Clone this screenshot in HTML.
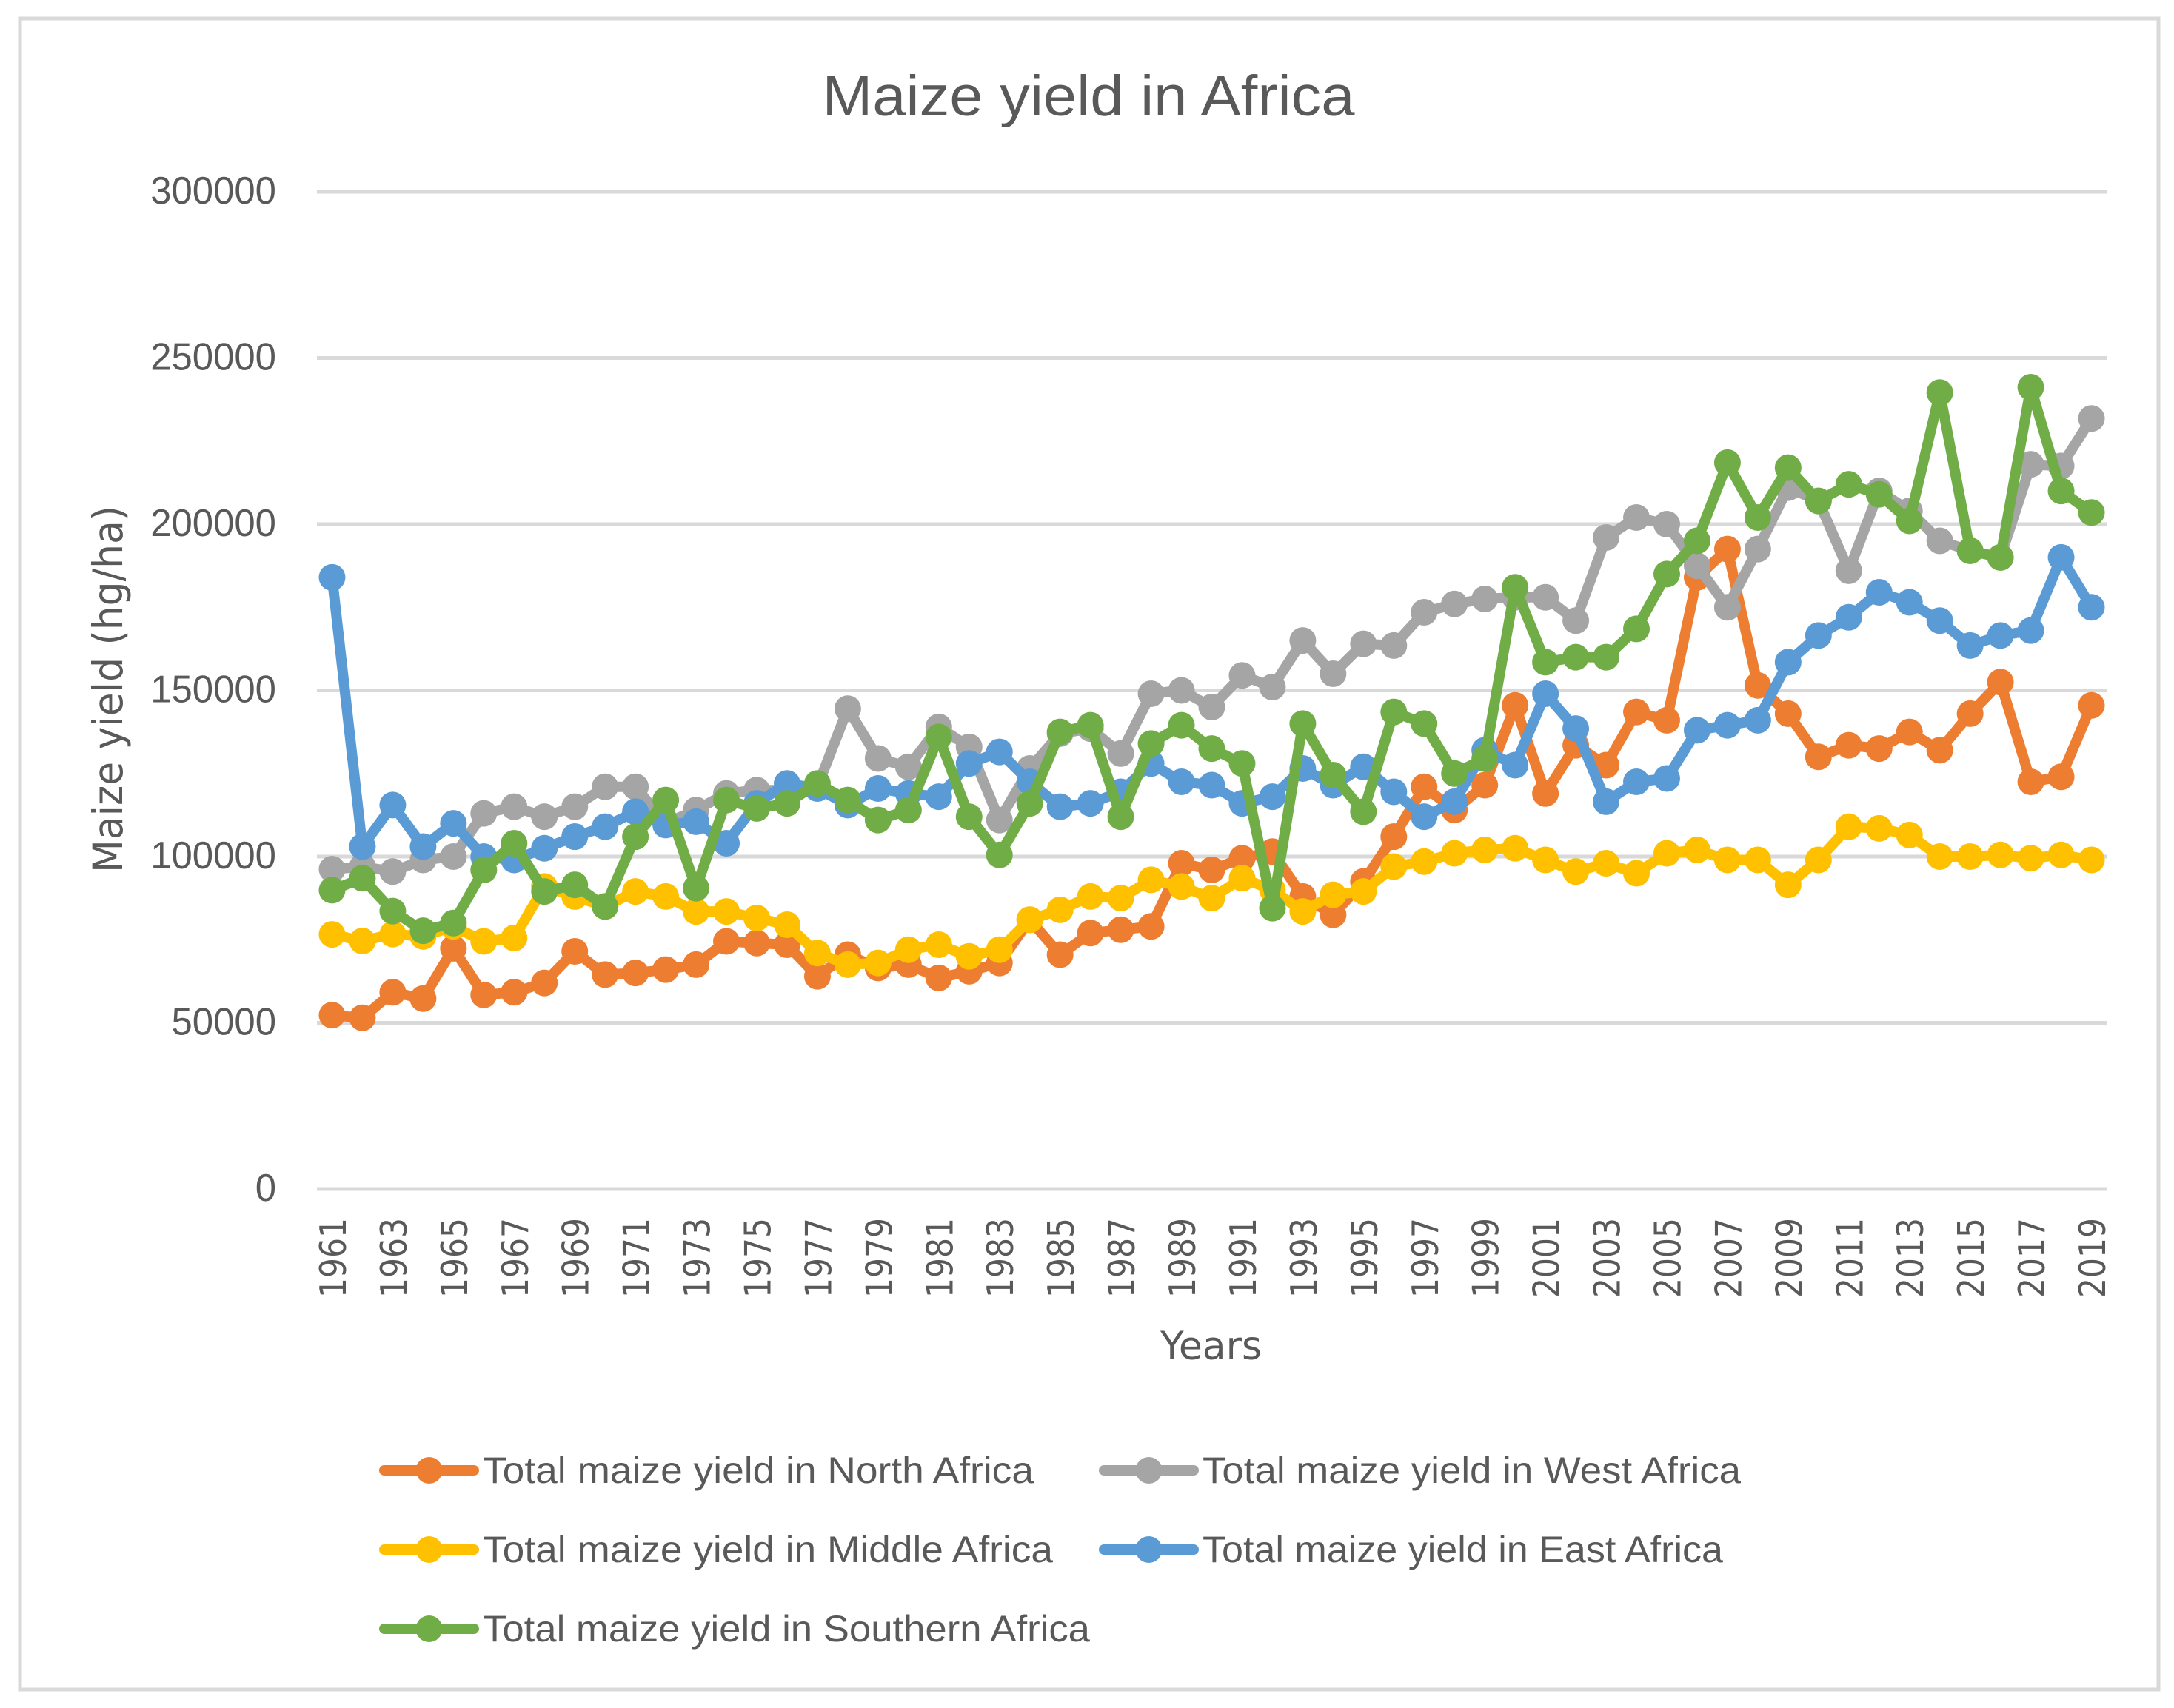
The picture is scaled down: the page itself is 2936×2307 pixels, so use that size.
<!DOCTYPE html>
<html lang="en">
<head>
<meta charset="utf-8">
<title>Maize yield in Africa</title>
<style>
html,body{margin:0;padding:0;background:#fff;width:2936px;height:2307px;overflow:hidden}
svg{display:block}
text{fill:#595959;font-family:"Liberation Sans",sans-serif}
.dj{font-family:"DejaVu Sans","Liberation Sans",sans-serif}
</style>
</head>
<body>
<svg id="chart" xmlns="http://www.w3.org/2000/svg" width="2936" height="2307" viewBox="0 0 2936 2307">
  <rect x="27" y="25" width="2888" height="2257" fill="#fff" stroke="#d9d9d9" stroke-width="5"/>
  <text x="1110.5" y="156" font-size="77" textLength="719" lengthAdjust="spacingAndGlyphs">Maize yield in Africa</text>
  <text class="dj" transform="translate(165,1179) rotate(-90)" font-size="55" textLength="496" lengthAdjust="spacingAndGlyphs">Maize yield (hg/ha)</text>
  <text class="dj" x="1567" y="1836" font-size="53" textLength="137" lengthAdjust="spacingAndGlyphs">Years</text>
  <g id="grid"></g>
  <g id="yticks"></g>
  <g id="xticks"></g>
  <g id="series"></g>
  <g id="legend"></g>
</svg>
<script>
const years = [1961,1962,1963,1964,1965,1966,1967,1968,1969,1970,1971,1972,1973,1974,1975,1976,1977,1978,1979,1980,1981,1982,1983,1984,1985,1986,1987,1988,1989,1990,1991,1992,1993,1994,1995,1996,1997,1998,1999,2000,2001,2002,2003,2004,2005,2006,2007,2008,2009,2010,2011,2012,2013,2014,2015,2016,2017,2018,2019];
const yTicks = [0,50000,100000,150000,200000,250000,300000];
const northAfrica = [52300,51500,59200,57300,72400,58400,59200,62000,71500,64500,65000,66000,67500,74500,74000,73500,64000,70500,66500,67500,63500,65500,68000,81000,70500,77000,78000,79000,98000,96000,99500,101500,88000,82500,92500,106000,121000,114000,121500,145500,119000,133500,127500,143500,141000,184000,192500,151500,143000,130000,133500,132500,137500,132000,143000,152500,122500,124000,145500];
const westAfrica = [96200,97000,95500,99000,100000,113000,115000,112000,115000,121000,121000,110000,114000,119000,120000,120000,121000,144500,129500,127000,139000,133000,111000,126500,137000,138500,131000,149000,150000,145000,154500,151000,165000,155000,164000,163500,173500,176000,177500,178000,178000,171000,196000,202000,200000,187500,175000,192500,211000,207000,186000,210000,204000,195000,192000,190000,218000,217500,231800];
const middleAfrica = [76600,74600,76700,76000,79000,74500,75500,91000,88000,85000,89500,88000,83500,83500,81500,79500,71000,67500,68000,72000,73500,70000,72000,81000,84000,88000,87500,93000,91000,87500,93500,90000,83500,88500,89500,97000,98500,101000,102000,102500,99000,95500,98000,95000,101000,102000,99000,99000,91500,99000,109000,108500,106500,100000,100000,100500,99500,100500,99000];
const eastAfrica = [184000,103000,115500,103000,110000,100000,99000,102500,106000,109000,113500,109500,110500,104000,116000,122000,120500,115500,120500,119000,118000,128000,131500,122500,115000,116000,119500,128000,122500,121500,116000,118000,126500,121500,127000,119500,112000,116500,132000,127500,149000,138500,116500,122500,123500,138000,139500,141000,158500,166500,172000,179500,176500,171000,163500,166500,168000,190000,175000];
const southernAfrica = [89900,93500,83600,77700,80000,96000,104000,89500,91500,85000,106000,117000,90500,117000,114500,116000,122000,117000,111000,114000,136000,112000,100500,116000,137500,139500,112000,134000,139500,132500,128000,84500,140000,124500,113500,143500,140000,125000,129500,181000,158500,160000,160000,168500,185000,195000,218500,202000,217000,207000,212000,209000,201000,239600,192000,190000,241200,210000,203500];

const NS = 'http://www.w3.org/2000/svg';
const plotLeft = 428, plotRight = 2845, plotBottom = 1606, plotTop = 259, yMax = 300000;
function xPos(i){ return plotLeft + (i + 0.5) * (plotRight - plotLeft) / years.length; }
function yPos(v){ return plotBottom - v / yMax * (plotBottom - plotTop); }
function mk(tag, parent, attrs){
  const el = document.createElementNS(NS, tag);
  for (const k in attrs) el.setAttribute(k, attrs[k]);
  parent.appendChild(el);
  return el;
}

const gridG = document.getElementById('grid');
const yG = document.getElementById('yticks');
yTicks.forEach(function(t){
  const line = mk('line', gridG, {x1: plotLeft, x2: plotRight, y1: yPos(t), y2: yPos(t), stroke: '#d9d9d9', 'stroke-width': 5});
  
  
  const s = String(t);
  const label = mk('text', yG, {x: 373, y: yPos(t) + 16, 'font-size': 52, 'text-anchor': 'end', textLength: 28.3 * s.length, lengthAdjust: 'spacingAndGlyphs'});
  label.textContent = s;
  
  
});

const xG = document.getElementById('xticks');
years.forEach(function(yr, i){
  if (i % 2 !== 0) return;
  const cx = xPos(i);
  const label = mk('text', xG, {class: 'dj', transform: 'translate(' + (cx + 18.5) + ',1753) rotate(-90)', 'font-size': 49, textLength: 108, lengthAdjust: 'spacingAndGlyphs'});
  label.textContent = String(yr);
  
  
});

const seriesNames = ['north-africa','west-africa','middle-africa','east-africa','southern-africa'];
const seriesValues = [northAfrica, westAfrica, middleAfrica, eastAfrica, southernAfrica];
const seriesColors = ['#ed7d31','#a5a5a5','#ffc000','#5b9bd5','#70ad47'];
const seriesLabels = ['Total maize yield in North Africa','Total maize yield in West Africa','Total maize yield in Middle Africa','Total maize yield in East Africa','Total maize yield in Southern Africa'];

const seriesG = document.getElementById('series');
seriesValues.forEach(function(vals, si){
  const g = mk('g', seriesG, {});
  
  
  const pts = vals.map(function(v, i){ return xPos(i).toFixed(1) + ',' + yPos(v).toFixed(1); }).join(' ');
  const pl = mk('polyline', g, {points: pts, fill: 'none', stroke: seriesColors[si], 'stroke-width': 14, 'stroke-linejoin': 'round', 'stroke-linecap': 'round'});
  
  
  vals.forEach(function(v, i){
    const c = mk('circle', g, {cx: xPos(i), cy: yPos(v), r: 18, fill: seriesColors[si]});
    
    
  });
});

const legendKeyX = [512, 1484, 512, 1484, 512];
const legendRowY = [1986, 1986, 2093, 2093, 2200];
const legendTextWidth = [744, 727, 770, 703, 820];
const legendG = document.getElementById('legend');
seriesLabels.forEach(function(lbl, i){
  const g = mk('g', legendG, {});
  
  
  const kx = legendKeyX[i], ky = legendRowY[i];
  const ln = mk('line', g, {x1: kx + 7, x2: kx + 128, y1: ky, y2: ky, stroke: seriesColors[i], 'stroke-width': 14, 'stroke-linecap': 'round'});
  
  
  const mkr = mk('circle', g, {cx: kx + 67.5, cy: ky, r: 18, fill: seriesColors[i]});
  
  
  const t = mk('text', g, {x: kx + 140, y: ky + 17, 'font-size': 50, textLength: legendTextWidth[i], lengthAdjust: 'spacingAndGlyphs'});
  t.textContent = lbl;
  
  
});
</script>
</body>
</html>
